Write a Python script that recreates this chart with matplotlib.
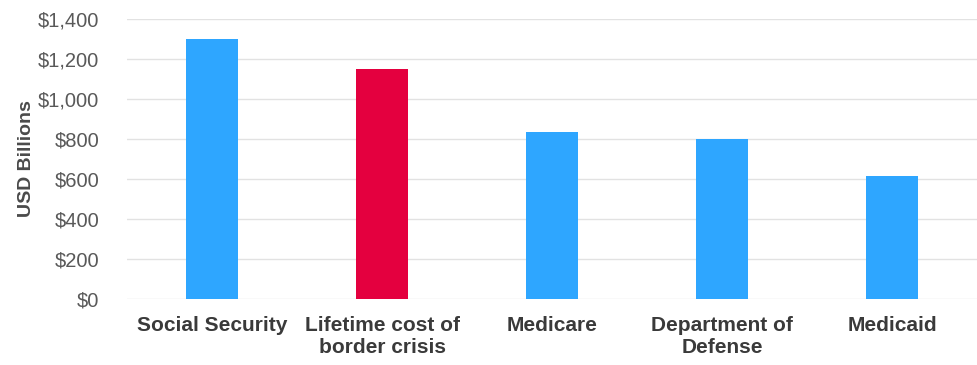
import matplotlib.pyplot as plt
from matplotlib.ticker import FuncFormatter

plt.rcParams['font.family'] = ['Liberation Sans', 'DejaVu Sans']

categories = ["Social Security", "Lifetime cost of\nborder crisis", "Medicare",
              "Department of\nDefense", "Medicaid"]
values = [1300, 1150, 835, 802, 614]
colors = ["#2ea6ff", "#e4003f", "#2ea6ff", "#2ea6ff", "#2ea6ff"]

fig = plt.figure(figsize=(9.77, 3.65), dpi=100)
ax = fig.add_axes([0.130, 0.181, 0.870, 0.767])

ax.bar(range(len(categories)), values, width=0.31, color=colors, zorder=3)

ax.set_xlim(-0.5, len(categories) - 0.5)
ax.set_ylim(0, 1400)
ax.set_yticks(range(0, 1401, 200))
ax.yaxis.set_major_formatter(FuncFormatter(lambda v, _: f"${v:,.0f}"))
ax.grid(axis='y', color='#e2e2e2', linewidth=1, zorder=0)

ax.set_xticks(range(len(categories)))
ax.set_xticklabels(categories, fontsize=15, fontweight='bold', color='#3a3a3a',
                   linespacing=1.2)
ax.tick_params(axis='x', length=0, pad=12)
ax.tick_params(axis='y', length=0, pad=20, labelsize=14.5, labelcolor='#595959')

ax.set_ylabel("USD Billions", fontsize=14, fontweight='bold', color='#4a4a4a',
              labelpad=2)

for s in ax.spines.values():
    s.set_visible(False)

fig.savefig("out.png", dpi=100)
